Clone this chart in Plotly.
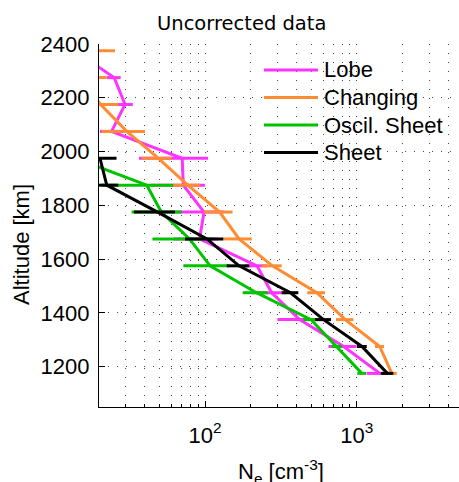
import math
import plotly.graph_objects as go

# Altitude bins (bin centres, km)
altitude = [1175, 1275, 1375, 1475, 1575, 1675, 1775, 1875, 1975, 2075, 2175, 2275, 2375]

# Electron density profiles, cm^-3, with +/- spread
lobe = [1420, 820, 420, 275, 220, 92, 98.5, 71.9, 70.7, 24.2, 29.7, 25.2, 13.8]
lobe_err = [260, 170, 120, 70, 35, 30, 35, 28, 34, 3.9, 3.7, 2.6, 4]

changing = [1702, 1417, 840, 545, 278, 167.6, 124.8, 77, 49.3, 30.5, 20.5, 15, 13]
changing_err = [133, 97, 110, 73, 42, 35.5, 27, 15.5, 11, 9.7, 6.3, 7.5, 12.5]

oscil_sheet = [1080, 740, 500, 218, 108, 79, 51.5, 41.3, 14, None, None, None, None]
oscil_sheet_err = [72, 56, 56, 41, 36, 34, 18.7, 20.5, 4, None, None, None, None]

sheet = [1591, 1082, 604, 366, 167.5, 103, 48.7, 22.5, 20.3, None, None, None, None]
sheet_err = [151, 82, 73, 46, 28.5, 29, 14.7, 4.3, 5.8, None, None, None, None]

series_names = ["Lobe", "Changing", "Oscil. Sheet", "Sheet"]
series_colors = ["rgb(255,51,255)", "rgb(255,140,51)", "rgb(0,195,0)", "rgb(0,0,0)"]

y_ticks = [1200, 1400, 1600, 1800, 2000, 2200, 2400]
x_ticks = [100, 1000]
x_ticktext = ["10<sup>2</sup>", "10<sup>3</sup>"]
x_minor = [m * 10 ** e for e in (1, 2, 3) for m in range(2, 10) if 20 <= m * 10 ** e <= 4700]

# Figure geometry (pixels)
W, H = 459, 482
L, R, T, B = 99, 0, 44, 75
PW, PH = W - L - R, H - T - B


def px(x):
    return (x - L) / PW


def py(y):
    return (H - B - y) / PH


SANS = "Liberation Sans, Arial, sans-serif"
TICK_FONT = dict(family=SANS, size=22, color="black")
GRID_COLOR = "rgba(40,40,40,0.85)"
GRID_DASH = "1px,8px"

fig = go.Figure()
values = [lobe, changing, oscil_sheet, sheet]
errors = [lobe_err, changing_err, oscil_sheet_err, sheet_err]
for name, vals, errs, color in zip(series_names, values, errors, series_colors):
    fig.add_trace(go.Scatter(
        x=vals, y=altitude, name=name, mode="lines",
        line=dict(color=color, width=3),
        error_x=dict(type="data", array=errs, symmetric=True, width=0,
                     thickness=3, color=color),
        showlegend=False, hoverinfo="x+y+name",
    ))

x_range = [math.log10(20), math.log10(4720)]
y_range = [1050, 2400]

fig.update_layout(
    width=W, height=H,
    margin=dict(l=L, r=R, t=T, b=B, pad=0),
    paper_bgcolor="white", plot_bgcolor="white",
    showlegend=False,
    xaxis=dict(
        type="log", range=x_range, showline=True, linecolor="black", linewidth=1.3,
        ticks="inside", ticklen=6, tickwidth=1, tickcolor="black",
        tickmode="array", tickvals=x_ticks, ticktext=x_ticktext,
        tickfont=TICK_FONT, ticklabelstandoff=8,
        showgrid=True, gridcolor=GRID_COLOR, griddash=GRID_DASH, gridwidth=1,
        minor=dict(tickmode="array", tickvals=x_minor, ticks="inside", ticklen=3,
                   tickcolor="black", showgrid=True, gridcolor=GRID_COLOR,
                   griddash=GRID_DASH, gridwidth=1),
        zeroline=False, mirror=False,
    ),
    xaxis2=dict(
        type="log", range=x_range, overlaying="x", side="top",
        showline=True, linecolor="black", linewidth=1.3,
        ticks="inside", ticklen=6, tickcolor="black",
        tickmode="array", tickvals=x_ticks, showticklabels=False,
        minor=dict(tickmode="array", tickvals=x_minor, ticks="inside", ticklen=3,
                   tickcolor="black", showgrid=False),
        showgrid=False, zeroline=False,
    ),
    yaxis=dict(
        range=y_range, showline=True, linecolor="black", linewidth=1.3,
        ticks="inside", ticklen=6, tickcolor="black",
        tickmode="array", tickvals=y_ticks,
        tickfont=TICK_FONT, ticklabelstandoff=4,
        showgrid=True, gridcolor=GRID_COLOR, griddash=GRID_DASH, gridwidth=1,
        zeroline=False, mirror=False,
    ),
)

annotations = [
    dict(text="Uncorrected data", x=px(241.5), y=py(23.5), xref="paper", yref="paper",
         xanchor="center", yanchor="middle", showarrow=False,
         font=dict(family="DejaVu Sans, sans-serif", size=19.5, color="black")),
    dict(text="Altitude [km]", x=px(22), y=py(245), xref="paper", yref="paper",
         xanchor="center", yanchor="middle", textangle=-90, showarrow=False,
         font=dict(family=SANS, size=22, color="black")),
    dict(text="N<sub>e</sub> [cm<sup>-3</sup>]", x=px(281), y=py(471), xref="paper", yref="paper",
         xanchor="center", yanchor="middle", showarrow=False,
         font=dict(family=SANS, size=22, color="black")),
]

# Legend drawn as sample lines plus labels
legend_rows = [70, 97.5, 125, 152.5]
shapes = []
for name, color, ry in zip(series_names, series_colors, legend_rows):
    shapes.append(dict(type="line", xref="paper", yref="paper",
                       x0=px(264), x1=px(318), y0=py(ry), y1=py(ry),
                       line=dict(color=color, width=3)))
    annotations.append(dict(text=name, x=px(322), y=py(ry), xref="paper", yref="paper",
                            xanchor="left", yanchor="middle", showarrow=False,
                            font=dict(family=SANS, size=22, color="black")))

fig.update_layout(annotations=annotations, shapes=shapes)

fig.write_html("out.html")
